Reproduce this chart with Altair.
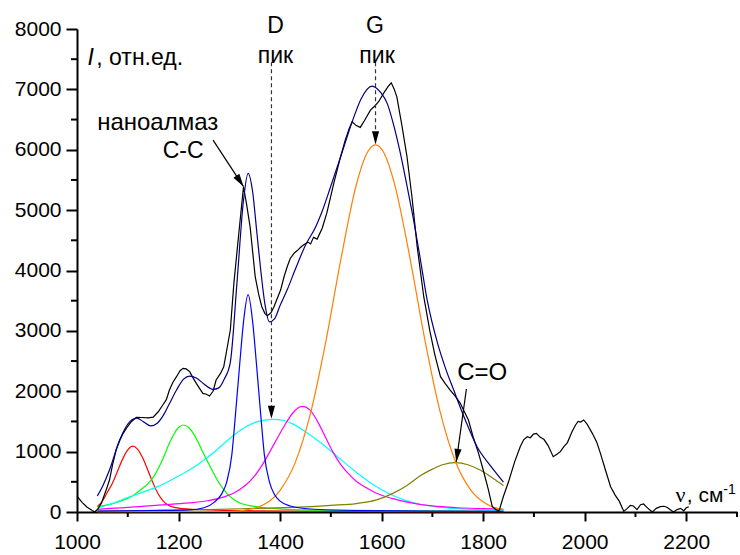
import altair as alt
import pandas as pd

# ---- measured Raman spectrum (black) ----
spec_x = [1000, 1010, 1020, 1030, 1035, 1042, 1048, 1056, 1064, 1070, 1077, 1085, 1091, 1100, 1107,
          1117, 1128, 1140, 1150, 1160, 1169, 1176, 1182, 1189, 1196, 1203, 1209, 1215, 1222, 1228,
          1235, 1242, 1248, 1255, 1261, 1268, 1274, 1283, 1289, 1295, 1302, 1309, 1315, 1322, 1328,
          1334, 1341, 1351, 1358, 1364, 1370, 1375, 1382, 1388, 1395, 1401, 1408, 1414, 1420, 1428,
          1434, 1440, 1446, 1455, 1460, 1466, 1473, 1483, 1492, 1506, 1518, 1528, 1536, 1542, 1550,
          1558, 1566, 1578, 1586, 1594, 1605, 1613, 1619, 1625, 1630, 1640, 1650, 1660, 1670, 1683,
          1695, 1705, 1716, 1725, 1735, 1745, 1755, 1763, 1771, 1780, 1791, 1800, 1810, 1818, 1825,
          1831, 1840, 1850, 1862, 1873, 1880, 1887, 1893, 1899, 1905, 1912, 1920, 1928, 1938, 1946,
          1952, 1959, 1966, 1975, 1982, 1987, 1992, 1998, 2005, 2015, 2024, 2031, 2040, 2051, 2060,
          2068, 2077, 2084, 2090, 2096, 2103, 2110, 2116, 2122, 2133, 2141, 2149, 2156, 2162, 2168,
          2175, 2182, 2189, 2195, 2200, 2205]
spec_y = [265, 160, 80, 25, 0, 60, 144, 330, 530, 780, 1027, 1200, 1303, 1420, 1496,
          1568, 1565, 1560, 1570, 1660, 1772, 1860, 2020, 2150, 2241, 2340, 2380, 2370, 2325, 2230,
          2131, 2040, 1965, 1950, 1921, 2000, 2186, 2300, 2406, 2683, 3014, 3787, 4300, 4890, 5387,
          5100, 4724, 3897, 3600, 3400, 3290, 3251, 3300, 3400, 3550, 3676, 3900, 4062, 4200, 4290,
          4330, 4380, 4421, 4470, 4440, 4549, 4520, 4700, 4950, 5450, 5850, 6150, 6350, 6463, 6400,
          6370, 6480, 6657, 6720, 6795, 6950, 7050, 7109, 7000, 6877, 6400, 5884, 5200, 4400, 3566,
          3000, 2600, 2241, 2130, 2020, 1920, 1800, 1660, 1524, 1250, 972, 700, 380, 88, 40,
          10, 260, 500, 830, 1082, 1200, 1247, 1230, 1290, 1303, 1240, 1200, 1100, 916, 960,
          1000, 1082, 1150, 1330, 1441, 1500, 1490, 1524, 1450, 1303, 1150, 972, 720, 419, 280,
          180, 10, 60, 110, 99, 40, 120, 132, 80, 0, 60, 88, 95, 78, 40,
          0, 40, 61, 20, 70, 88]

# ---- cumulative fit (navy) ----
fit_x = [1040, 1050, 1064, 1084, 1104, 1118, 1130, 1145, 1158, 1170, 1183, 1196, 1210, 1222, 1235,
         1250, 1268, 1280, 1290, 1302, 1315, 1328, 1337, 1346, 1354, 1362, 1370, 1379, 1389, 1400,
         1414, 1430, 1450, 1470, 1482, 1500, 1520, 1542, 1560, 1581, 1598, 1611, 1624, 1637, 1650,
         1663, 1676, 1690, 1710, 1725, 1742, 1765, 1788, 1815, 1840]
fit_y = [265, 420, 695, 1192, 1496, 1555, 1500, 1425, 1470, 1600, 1810, 2020, 2200, 2252, 2220,
         2120, 2030, 2060, 2200, 2480, 3787, 5167, 5609, 5300, 4650, 4000, 3450, 3150, 3200, 3420,
         3680, 4020, 4420, 4720, 4960, 5400, 5900, 6463, 6850, 7055, 6950, 6768, 6400, 5940, 5400,
         4835, 4200, 3500, 2800, 2400, 2020, 1520, 1082, 760, 495]

# ---- fitted components ----
red_x = [1040, 1050, 1060, 1070, 1080, 1090, 1100, 1110, 1120, 1130, 1140, 1150, 1160, 1170, 1180,
         1190, 1200, 1220, 1260, 1350, 1500, 1840]
red_y = [88, 180, 330, 480, 680, 880, 1030, 1090, 1035, 885, 683, 474, 298, 180, 110,
         80, 65, 50, 35, 20, 10, 5]

green_x = [1040, 1070, 1092, 1110, 1125, 1140, 1151, 1160, 1171, 1180, 1190, 1200, 1210, 1220, 1230,
           1240, 1249, 1260, 1269, 1280, 1295, 1310, 1322, 1340, 1361, 1414, 1500, 1650, 1840]
green_y = [88, 140, 199, 270, 364, 470, 585, 720, 916, 1100, 1275, 1400, 1441, 1400, 1290,
           1130, 972, 790, 641, 480, 309, 200, 144, 105, 78, 45, 30, 20, 12]

blue_x = [1040, 1150, 1220, 1250, 1270, 1285, 1295, 1305, 1312, 1320, 1328, 1337, 1346, 1354, 1362,
          1369, 1379, 1389, 1400, 1420, 1460, 1550, 1700, 1840]
blue_y = [15, 25, 35, 70, 160, 300, 500, 950, 1600, 2400, 3150, 3600, 3150, 2400, 1600,
          950, 500, 290, 180, 100, 50, 25, 15, 10]

cyan_x = [1040, 1070, 1100, 1130, 1160, 1190, 1210, 1230, 1250, 1270, 1290, 1310, 1330, 1350, 1370,
          1388, 1405, 1425, 1450, 1475, 1500, 1525, 1550, 1575, 1600, 1625, 1650, 1680, 1710, 1750,
          1800, 1840]
cyan_y = [66, 140, 240, 330, 425, 550, 641, 740, 860, 990, 1140, 1280, 1400, 1480, 1522,
          1535, 1520, 1460, 1330, 1180, 1010, 830, 660, 500, 370, 265, 185, 120, 85, 55,
          35, 25]

magenta_x = [1040, 1100, 1160, 1220, 1260, 1290, 1310, 1330, 1350, 1365, 1380, 1395, 1410, 1425, 1443,
             1460, 1475, 1490, 1505, 1520, 1535, 1550, 1570, 1590, 1620, 1650, 1700, 1750, 1800, 1840]
magenta_y = [45, 75, 115, 150, 190, 250, 320, 430, 600, 780, 1000, 1230, 1450, 1640, 1750,
             1680, 1480, 1230, 980, 780, 630, 510, 400, 310, 225, 165, 100, 70, 55, 45]

orange_x = [1040, 1300, 1350, 1400, 1430, 1460, 1490, 1520, 1550, 1570, 1588, 1605, 1625, 1655, 1685,
            1715, 1745, 1775, 1805, 1820, 1840]
orange_y = [5, 8, 65, 359, 822, 1636, 2818, 4197, 5416, 5924, 6080, 5941, 5448, 4244, 2861,
            1670, 844, 369, 140, 81, 38]

olive_x = [1040, 1200, 1300, 1380, 1450, 1500, 1550, 1590, 1620, 1650, 1676, 1700, 1720, 1745, 1770,
           1795, 1820, 1840]
olive_y = [15, 30, 50, 65, 85, 110, 140, 200, 300, 440, 600, 710, 783, 817, 783,
           690, 555, 437]

# ---- axis ticks ----
x_major = [1000, 1200, 1400, 1600, 1800, 2000, 2200]
x_minor = [1100, 1300, 1500, 1700, 1900, 2100, 2300]
y_major = [0, 1000, 2000, 3000, 4000, 5000, 6000, 7000, 8000]
y_minor = [500, 1500, 2500, 3500, 4500, 5500, 6500, 7500]

# ---- annotations ----
label_text = ["D", "пик", "G", "пик", "наноалмаз", "C-C", "C=O"]
label_x = [1391, 1391, 1587, 1591, 1159, 1209, 1798]
label_y = [7932, 7435, 7932, 7435, 6326, 5862, 2186]
label_size = [23, 23, 23, 23, 24, 23, 24]

dash_x = [1383, 1588]
dash_y = [7450, 7450]
dash_y2 = [1545, 6090]

solid_x = [1268, 1767]
solid_y = [6160, 2037]
solid_x2 = [1328, 1747]
solid_y2 = [5390, 830]

head_x = [1383, 1588, 1328, 1747]
head_y = [1545, 6090, 5390, 830]
head_angle = [0, 0, 326.7, 7.9]

FONT = "Liberation Sans"
W, H = 660, 483

xscale = alt.Scale(domain=[1000, 2300], nice=False, zero=False)
yscale = alt.Scale(domain=[0, 8000], nice=False)
xaxis = alt.Axis(values=x_major, title=None, format="d", grid=False, labelFont=FONT,
                 labelFontSize=21, labelColor="black", tickSize=9, tickWidth=2, tickColor="black",
                 domainWidth=2, domainColor="black", labelPadding=10, labelFlush=False)
yaxis = alt.Axis(values=y_major, title=None, format="d", grid=False, labelFont=FONT,
                 labelFontSize=21, labelColor="black", tickSize=11, tickWidth=2, tickColor="black",
                 domainWidth=2, domainColor="black", labelPadding=5)

X = alt.X("x:Q", scale=xscale, axis=xaxis)
Y = alt.Y("y:Q", scale=yscale, axis=yaxis)


def curve(xs, ys, color, interp="monotone"):
    df = pd.DataFrame({"x": xs, "y": ys})
    return alt.Chart(df).mark_line(color=color, strokeWidth=1.2, interpolate=interp).encode(x=X, y=Y)


def text_layer(xs, ys, texts, **style):
    df = pd.DataFrame({"x": xs, "y": ys, "t": texts})
    return alt.Chart(df).mark_text(color="black", baseline="alphabetic", **style).encode(
        x=X, y=Y, text="t:N")


minor_x = alt.Chart(pd.DataFrame({"x": x_minor})).mark_rule(color="black", strokeWidth=2).encode(
    x=X, y=alt.value(H), y2=alt.value(H + 5))
minor_y = alt.Chart(pd.DataFrame({"y": y_minor})).mark_rule(color="black", strokeWidth=2).encode(
    y=Y, x=alt.value(0), x2=alt.value(-6))

components = [
    curve(red_x, red_y, "#ff0000"),
    curve(green_x, green_y, "#00ff00"),
    curve(cyan_x, cyan_y, "#00ffff"),
    curve(magenta_x, magenta_y, "#ff00ff"),
    curve(olive_x, olive_y, "#808000"),
    curve(orange_x, orange_y, "#ff8000"),
    curve(blue_x, blue_y, "#0000ff"),
]
spectrum = curve(spec_x, spec_y, "#000000", interp="linear")
envelope = curve(fit_x, fit_y, "#000080")

dashed = alt.Chart(pd.DataFrame({"x": dash_x, "y": dash_y, "y2": dash_y2})).mark_rule(
    color="#333333", strokeWidth=1.2, strokeDash=[4, 3]).encode(x=X, y=Y, y2="y2:Q")
solid = alt.Chart(pd.DataFrame({"x": solid_x, "y": solid_y, "x2": solid_x2, "y2": solid_y2})).mark_rule(
    color="black", strokeWidth=1.2).encode(x=X, y=Y, x2="x2:Q", y2="y2:Q")
heads = alt.Chart(pd.DataFrame({"x": head_x, "y": head_y, "angle": head_angle})).mark_point(
    shape="M-0.55,-2L0.55,-2L0,0Z", size=169, filled=True, color="black", opacity=1, strokeWidth=0
).encode(x=X, y=Y, angle=alt.Angle("angle:Q", scale=None))

labels = alt.Chart(pd.DataFrame({"x": label_x, "y": label_y, "t": label_text, "fs": label_size})).mark_text(
    font=FONT, color="black", align="center", baseline="alphabetic").encode(
    x=X, y=Y, text="t:N", size=alt.Size("fs:Q", scale=None, legend=None))

ylab_i = text_layer([1020.7], [7402], ["I"], font=FONT, fontSize=23, fontStyle="italic", align="left")
ylab_rest = text_layer([1038], [7402], [", отн.ед."], font=FONT, fontSize=23, align="left")
xlab_nu = text_layer([2179], [170], ["ν"], font="Liberation Serif", fontSize=22, align="left")
xlab_rest = text_layer([2201], [170], [", см"], font=FONT, fontSize=21, align="left")
xlab_sup = text_layer([2273], [290], ["-1"], font=FONT, fontSize=14, align="left")

chart = alt.layer(
    minor_x, minor_y, *components, spectrum, envelope, dashed, solid, heads, labels,
    ylab_i, ylab_rest, xlab_nu, xlab_rest, xlab_sup
).properties(
    width=W, height=H,
    autosize=alt.AutoSizeParams(type="none"),
    padding={"left": 77, "top": 29, "right": 3, "bottom": 43},
    background="white",
).configure_view(stroke=None)

chart.save("out.html", embed_options={"renderer": "svg", "actions": False})
